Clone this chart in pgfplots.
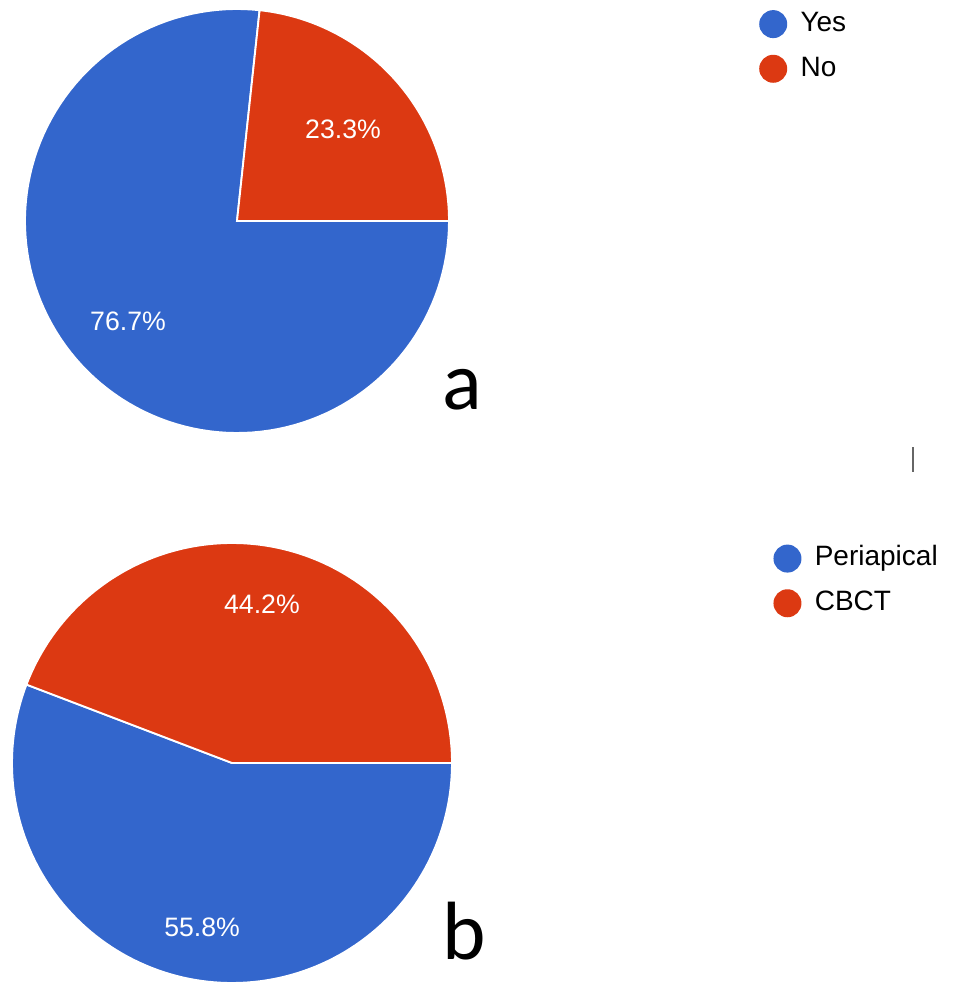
\documentclass[border=0pt]{standalone}
\usepackage{pgfplots}
\pgfplotsset{compat=1.18}
\usepackage{fontspec}
\setmainfont{Liberation Sans}
\newfontfamily\calibri{Carlito}
\definecolor{gblue}{HTML}{3366CC}
\definecolor{gred}{HTML}{DC3912}
% data (percent)
\def\valYes{76.7}
\def\valNo{23.3}
\def\valPeri{55.8}
\def\valCBCT{44.2}
\pgfmathsetmacro\angNo{3.6*\valNo}
\pgfmathsetmacro\angCBCT{3.6*\valCBCT}
\pgfplotsset{
  pieaxis/.style={hide axis, xmin=-1,xmax=1,ymin=-1,ymax=1, scale only axis,
    clip=false, anchor=center, legend cell align=left,
    legend image code/.code={\fill[##1, draw=none] (10.5pt,0pt) circle (10.5pt);
      \path[draw=none, fill=none] (0pt,0pt) -- (31pt,0pt);},
    legend style={draw=none, fill=none, anchor=north west, inner sep=0pt,
      font=\fontsize{21}{21}\selectfont, row sep=12.5pt,
      nodes={inner sep=0pt, text height=15pt, text depth=4pt}},
  },
  slice/.style={draw=white, line width=1.4pt, samples=120, variable=\t},
}
\begin{document}
\begin{tikzpicture}
\useasboundingbox (0,0) rectangle (722.25pt,737.25pt);
% ---------- a ----------
\begin{axis}[pieaxis, width=318pt, height=318pt, at={(177.75pt,571.5pt)},
  legend style={at={(1.731,0.998)}}]
\addplot[slice, fill=gblue, domain=\angNo:360] ({cos(\t)},{sin(\t)}) -- (0,0) -- cycle;
\addlegendentry{Yes}
\addplot[slice, fill=gred, domain=0:\angNo] ({cos(\t)},{sin(\t)}) -- (0,0) -- cycle;
\addlegendentry{No}
\node[white, font=\fontsize{20}{20}\selectfont] at (axis cs:0.5,0.434) {\valNo\%};
\node[white, font=\fontsize{20}{20}\selectfont] at (axis cs:-0.514,-0.472) {\valYes\%};
\end{axis}
% ---------- b ----------
\begin{axis}[pieaxis, width=330pt, height=330pt, at={(174pt,165pt)},
  legend style={at={(1.730,0.997)}}]
\addplot[slice, fill=gblue, domain=\angCBCT:360] ({cos(\t)},{sin(\t)}) -- (0,0) -- cycle;
\addlegendentry{Periapical}
\addplot[slice, fill=gred, domain=0:\angCBCT] ({cos(\t)},{sin(\t)}) -- (0,0) -- cycle;
\addlegendentry{CBCT}
\node[white, font=\fontsize{20}{20}\selectfont] at (axis cs:0.136,0.723) {\valCBCT\%};
\node[white, font=\fontsize{20}{20}\selectfont] at (axis cs:-0.136,-0.745) {\valPeri\%};
\end{axis}
\node[anchor=base west, inner sep=0pt, font=\calibri\fontsize{62}{62}\selectfont] at (332pt,429.75pt) {a};
\node[anchor=base west, inner sep=0pt, font=\calibri\fontsize{62}{62}\selectfont] at (332pt,17.25pt) {b};
\draw[black!60, line width=1.1pt] (684.75pt,383.25pt) -- (684.75pt,402pt);
\end{tikzpicture}
\end{document}
